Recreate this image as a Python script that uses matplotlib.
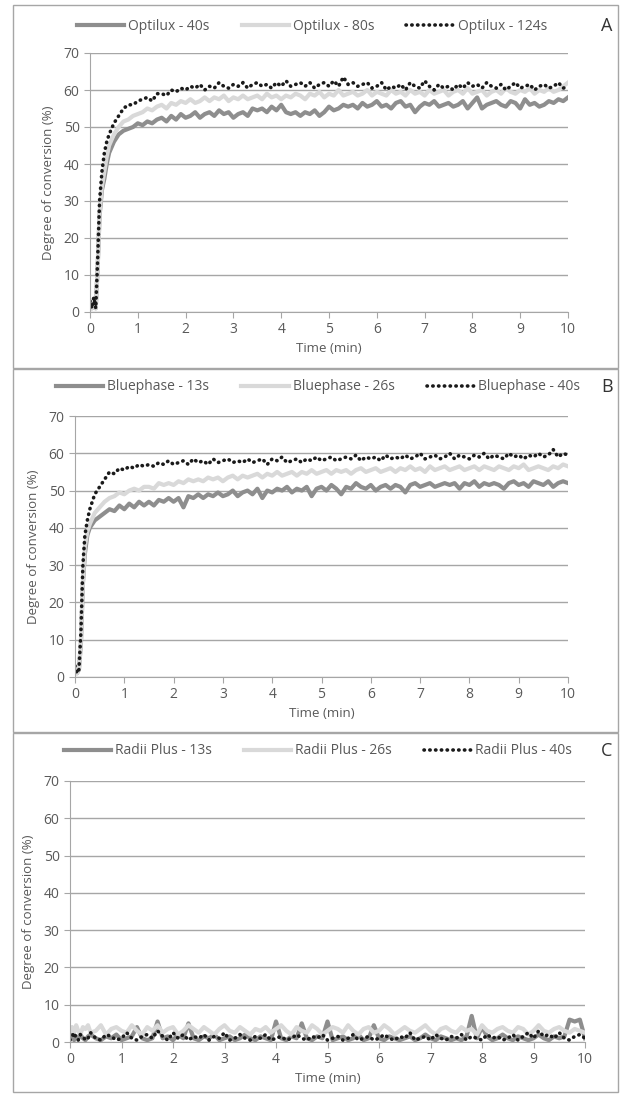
import numpy as np
import matplotlib
matplotlib.use("Agg")
import matplotlib.pyplot as plt
from matplotlib.patches import Rectangle

plt.rcParams['font.family'] = ['Open Sans', 'DejaVu Sans']

# sampling times (min)
time = [0, 0.04, 0.08, 0.12, 0.16, 0.2, 0.25, 0.3, 0.35, 0.4,
        0.5, 0.6, 0.7, 0.8, 0.9, 1.0, 1.1, 1.2, 1.3, 1.4,
        1.5, 1.6, 1.7, 1.8, 1.9, 2.0, 2.1, 2.2, 2.3, 2.4,
        2.5, 2.6, 2.7, 2.8, 2.9, 3.0, 3.1, 3.2, 3.3, 3.4,
        3.5, 3.6, 3.7, 3.8, 3.9, 4.0, 4.1, 4.2, 4.3, 4.4,
        4.5, 4.6, 4.7, 4.8, 4.9, 5.0, 5.1, 5.2, 5.3, 5.4,
        5.5, 5.6, 5.7, 5.8, 5.9, 6.0, 6.1, 6.2, 6.3, 6.4,
        6.5, 6.6, 6.7, 6.8, 6.9, 7.0, 7.1, 7.2, 7.3, 7.4,
        7.5, 7.6, 7.7, 7.8, 7.9, 8.0, 8.1, 8.2, 8.3, 8.4,
        8.5, 8.6, 8.7, 8.8, 8.9, 9.0, 9.1, 9.2, 9.3, 9.4,
        9.5, 9.6, 9.7, 9.8, 9.9, 10.0]

# panel A - Optilux
optilux_40 = [2, 1, 2, 1, 12, 26, 33, 36, 40, 43,
              46, 48, 49, 49.5, 50, 51, 50.5, 51.5, 51, 52,
              52.5, 51.5, 53, 52, 53.5, 52.5, 53, 54, 52.5, 53.5,
              54, 53, 54.5, 53.5, 54, 52.5, 53.5, 54, 53, 55,
              54.5, 55, 54, 55.5, 54.5, 56, 54, 53.5, 54, 53,
              54, 53.5, 54.5, 53, 54, 55.5, 54.5, 55, 56, 55.5,
              56, 55, 56.5, 55.5, 56, 57, 55.5, 56, 55, 56.5,
              57, 55.5, 56, 54, 55.5, 56.5, 56, 57, 55.5, 56,
              56.5, 55.5, 56, 57, 55, 56.5, 58, 55, 56, 56.5,
              57, 56, 55.5, 57, 56.5, 55, 57.5, 56, 56.5, 55.5,
              56, 57, 56.5, 57.5, 57, 58]
optilux_80 = [2, 1, 2, 1, 12, 27, 34, 38, 42, 45,
              48, 50, 51.5, 52, 53, 53.5, 54, 55, 54.5, 55.5,
              56, 55, 56.5, 56, 57, 56.5, 57.5, 56.5, 57, 58,
              57, 58, 57.5, 58.5, 57, 58, 57.5, 58.5, 57.5, 58,
              58.5, 57.5, 59, 58, 58.5, 57.5, 58.5, 58, 59, 58.5,
              57.5, 59, 58.5, 59.5, 58, 59, 58.5, 60, 58.5, 59,
              59.5, 58.5, 59, 60, 58.5, 59.5, 59, 58.5, 60, 59,
              59.5, 58.5, 60, 59, 59.5, 58.5, 60, 59, 59.5, 60,
              58.5, 59.5, 60, 59, 60.5, 59, 59.5, 60, 58.5, 59.5,
              60, 59, 60.5, 59.5, 59, 60, 59.5, 60.5, 59, 60,
              59.5, 60.5, 59.5, 60, 61, 62]
optilux_124 = [3, 1, 4, 1, 14, 30, 38, 43, 46, 48,
               51, 53, 55, 56, 56, 57, 57.5, 58, 57, 59,
               59, 58.5, 60, 59.5, 60.5, 60, 61, 60.5, 61.5, 60,
               61, 60.5, 62, 61, 60.5, 61.5, 61, 62, 60.5, 61.5,
               62, 61, 61.5, 60.5, 62, 61, 62.5, 61, 61.5, 62,
               61, 62, 60.5, 61.5, 62, 61, 62.5, 61, 63.5, 61.5,
               62, 61, 61.5, 62, 60.5, 61, 62, 60, 61, 60.5,
               61.5, 60, 62, 61, 60.5, 62.5, 61, 60, 61.5, 60.5,
               61, 60, 61.5, 60.5, 62, 61, 61.5, 60.5, 62, 61,
               60.5, 61.5, 60, 61, 62, 60.5, 61, 61.5, 60, 61,
               61.5, 60.5, 61, 62, 60.5, 61]

# panel B - Bluephase
bluephase_13 = [2, 1, 2, 9, 25, 33, 38, 40, 41, 42,
                43, 44, 45, 44.5, 46, 45, 46.5, 45.5, 47, 46,
                47, 46, 47.5, 47, 48, 47, 48, 45.5, 48.5, 48,
                49, 48, 49, 48.5, 49.5, 48.5, 49, 50, 48.5, 49.5,
                50, 49, 50.5, 48, 50, 49.5, 50.5, 50, 51, 49.5,
                50.5, 50, 51, 48.5, 50.5, 51, 50, 51.5, 50.5, 49,
                51, 50.5, 52, 51, 50.5, 51.5, 50, 51, 51.5, 50.5,
                51.5, 51, 49.5, 51.5, 52, 51, 51.5, 52, 51, 51.5,
                52, 51.5, 52, 50.5, 52, 51.5, 52.5, 51, 52, 51.5,
                52, 51.5, 50.5, 52, 52.5, 51.5, 52, 51, 52.5, 52,
                51.5, 52.5, 51, 52, 52.5, 52]
bluephase_26 = [2, 1, 2, 10, 26, 35, 39, 41, 42.5, 44,
                45.5, 47, 48, 48.5, 49.5, 49, 50, 50.5, 50, 51,
                51, 50.5, 52, 51.5, 52, 51.5, 52.5, 52, 53, 52.5,
                53, 52.5, 53.5, 53, 53.5, 52.5, 53.5, 54, 53, 54,
                53.5, 54, 54.5, 53.5, 54.5, 54, 55, 54, 54.5, 55,
                54, 55, 54.5, 55.5, 54.5, 55, 55.5, 54.5, 55.5, 55,
                55.5, 54.5, 55.5, 56, 55, 55.5, 56, 55, 55.5, 56,
                55, 56, 55.5, 56.5, 55.5, 56, 55, 56.5, 55.5, 56,
                56.5, 55.5, 56, 56.5, 55.5, 56, 56.5, 55.5, 56.5, 56,
                55.5, 56.5, 56, 55.5, 56.5, 56, 57, 55.5, 56, 56.5,
                56, 55.5, 56.5, 56, 57, 56.5]
bluephase_40 = [3, 1, 2, 12, 30, 38, 42, 45, 47, 49,
                51, 53, 55, 54.5, 56, 55.5, 56.5, 56, 57, 56.5,
                57, 56.5, 57.5, 57, 58, 57, 57.5, 58, 57, 58.5,
                57.5, 58, 57, 58.5, 57.5, 58, 58.5, 57.5, 58, 57.5,
                58.5, 57.5, 58, 58.5, 57, 58.5, 58, 59, 57.5, 58,
                58.5, 57.5, 58.5, 58, 59, 58, 58.5, 59, 58, 58.5,
                59, 58.5, 59.5, 58, 59, 58.5, 59, 58, 59.5, 58.5,
                59, 58.5, 59.5, 58.5, 59, 60, 58.5, 59, 59.5, 58.5,
                59, 60, 58.5, 59.5, 59, 58.5, 59.5, 59, 60, 58.5,
                59.5, 59, 58.5, 60, 59, 59.5, 58.5, 59.5, 59, 60,
                59, 59.5, 61, 59, 60, 59.5]

# panel C - Radii Plus
radii_13 = [1, 2, 0.5, 1.5, 1, 2, 1, 0.5, 1.5, 2,
            1, 0.5, 1.5, 1, 2, 0.5, 1, 1.5, 4, 1,
            0.5, 1, 5.5, 1, 1.5, 0.5, 2, 1, 5, 1,
            0.5, 1.5, 1, 2, 0.5, 1, 1.5, 0.5, 1, 2,
            1, 0.5, 1.5, 1, 0.5, 5.5, 1, 0.5, 1.5, 1,
            5, 1, 0.5, 1.5, 1, 5.5, 0.5, 1, 1.5, 0.5,
            1, 2, 0.5, 1, 4.5, 1, 0.5, 1.5, 1, 0.5,
            1, 1.5, 0.5, 1, 2, 1, 0.5, 1.5, 1, 0.5,
            1, 0.5, 1.5, 7, 1, 4, 1.5, 0.5, 1, 2,
            1, 0.5, 1.5, 1, 0.5, 1, 2, 1, 0.5, 1.5,
            1, 1.5, 6, 5.5, 6, 1]
radii_26 = [3, 4, 2.5, 4.5, 3, 2, 4, 3.5, 4.5, 2.5,
            3, 4.5, 2, 3.5, 4, 3, 2.5, 4.5, 3, 2,
            4, 3, 4.5, 2.5, 3.5, 4, 2, 3, 4.5, 3.5,
            2.5, 4, 3, 2, 3.5, 4.5, 3, 2.5, 4, 3,
            2, 3.5, 3, 4, 2.5, 3.5, 4.5, 3, 2, 4,
            3, 2.5, 4.5, 3.5, 2, 3, 4, 3.5, 2.5, 4.5,
            3, 2, 3.5, 4, 2.5, 3, 4.5, 3.5, 2, 3,
            4, 3, 2.5, 3.5, 4.5, 3, 2, 3.5, 4, 3,
            2.5, 4, 3, 3.5, 2, 4.5, 3, 2.5, 3.5, 4,
            3, 2.5, 4, 3.5, 2, 3, 4.5, 3, 2.5, 3.5,
            4, 3, 2.5, 3.5, 3, 2.5]
radii_40 = [0.5, 1.5, 2.5, 1, 0.5, 2, 1.5, 0.5, 1, 2.5,
            1, 0.5, 2, 1.5, 0.5, 1, 2.5, 1, 0.5, 1.5,
            2, 1, 3, 1.5, 0.5, 2.5, 1, 2, 0.5, 1.5,
            1, 2, 0.5, 1.5, 1, 2.5, 0.5, 1, 2, 1,
            0.5, 1.5, 1, 2, 0.5, 1, 1.5, 0.5, 1, 2,
            1, 0.5, 1.5, 1, 2, 0.5, 1, 1.5, 0.5, 1,
            2, 0.5, 1, 1.5, 0.5, 1, 2, 1, 0.5, 1.5,
            1, 2.5, 0.5, 1, 1.5, 0.5, 2, 1, 0.5, 1.5,
            1, 2, 0.5, 1.5, 1, 0.5, 2, 1, 1.5, 0.5,
            1, 2, 0.5, 1.5, 2.5, 1, 3, 1.5, 2, 1,
            2.5, 1, 0.5, 1.5, 2, 1]

panels = [
    ('A', ['Optilux - 40s', 'Optilux - 80s', 'Optilux - 124s'],
     [optilux_40, optilux_80, optilux_124]),
    ('B', ['Bluephase - 13s', 'Bluephase - 26s', 'Bluephase - 40s'],
     [bluephase_13, bluephase_26, bluephase_40]),
    ('C', ['Radii Plus - 13s', 'Radii Plus - 26s', 'Radii Plus - 40s'],
     [radii_13, radii_26, radii_40]),
]

W, H = 622, 1097
fig = plt.figure(figsize=(W / 100, H / 100), dpi=100)

# pixel boxes: axes (left, right, top, bottom), frame (top, bottom)
ax_px = [(90, 568, 53, 312), (75, 568, 416, 677), (70, 585, 781, 1042)]
frame_px = [(5, 368), (369, 732), (733, 1092)]
legend_y = [26, 387, 751]
legend_x = [312, 318, 318]

grey = '#595959'
for (letter, names, series), (l, r, t, b), (ft, fb), ly, lx in zip(panels, ax_px, frame_px, legend_y, legend_x):
    fig.add_artist(Rectangle((13 / W, 1 - fb / H), (618 - 13) / W, (fb - ft) / H,
                             transform=fig.transFigure, fill=False,
                             edgecolor='#a6a6a6', linewidth=1))
    ax = fig.add_axes([l / W, 1 - b / H, (r - l) / W, (b - t) / H])
    ax.plot(time, series[0], color='#8e8e8e', lw=3, label=names[0])
    ax.plot(time, series[1], color='#d9d9d9', lw=3, label=names[1])
    ax.plot(time, series[2], color='#1a1a1a', lw=2.6, linestyle=(0, (0.1, 1.5)),
            dash_capstyle='round', label=names[2])
    ax.set_xlim(0, 10)
    ax.set_ylim(0, 70)
    ax.set_xticks(range(0, 11))
    ax.set_yticks(range(0, 71, 10))
    ax.grid(axis='y', color='#a6a6a6', lw=1)
    ax.set_axisbelow(True)
    for s in ['top', 'right']:
        ax.spines[s].set_visible(False)
    for s in ['left', 'bottom']:
        ax.spines[s].set_color('#a6a6a6')
    ax.tick_params(colors='#a6a6a6', labelcolor=grey, labelsize=10, length=4)
    ax.set_xlabel('Time (min)', color=grey, fontsize=9.5, labelpad=3)
    ax.set_ylabel('Degree of conversion (%)', color=grey, fontsize=9.5, labelpad=6)
    fig.legend(*ax.get_legend_handles_labels(), loc='center', ncol=3,
               bbox_to_anchor=(lx / W, 1 - ly / H), frameon=False,
               fontsize=10, handlelength=3.4, columnspacing=2.3,
               handletextpad=0.3, labelcolor=grey)
    fig.text(607 / W, 1 - ly / H, letter, fontsize=13, color='#333333',
             ha='center', va='center')

fig.savefig('out.png', dpi=100, facecolor='white')
